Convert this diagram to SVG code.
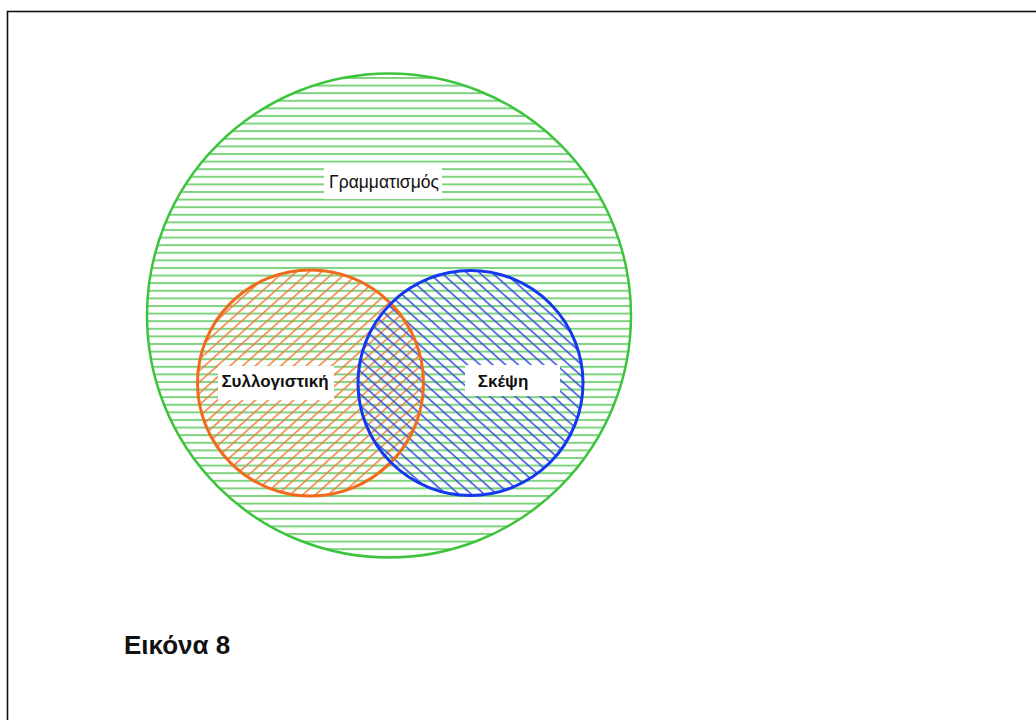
<svg xmlns="http://www.w3.org/2000/svg" width="1036" height="720" viewBox="0 0 1036 720">
<defs>
<style>
.lbl{font-family:"Liberation Sans",Arial,sans-serif;fill:#111}
.b{font-weight:bold}
.box{fill:#fff}
</style>
<pattern id="hg" patternUnits="userSpaceOnUse" width="20" height="7.6" y="1">
<rect x="0" y="0" width="20" height="7.6" fill="#fff"/>
<rect x="0" y="0" width="20" height="2" fill="#7fd27f"/>
</pattern>
<pattern id="ho" patternUnits="userSpaceOnUse" width="20" height="8.5" patternTransform="rotate(-42)">
<rect x="0" y="0" width="20" height="1.5" fill="#f08040"/>
</pattern>
<pattern id="hb" patternUnits="userSpaceOnUse" width="20" height="8.5" patternTransform="rotate(42)">
<rect x="0" y="0" width="20" height="1.6" fill="#4058e0"/>
</pattern>
</defs>
<rect width="1036" height="720" fill="#fff"/>
<rect x="7.5" y="11.5" width="1100" height="800" fill="none" stroke="#111" stroke-width="1.6"/>
<g id="grammatismos">
<circle cx="389" cy="315.5" r="242" fill="url(#hg)" stroke="#3cc43c" stroke-width="2.5"/>
</g>
<g id="syllogistiki">
<circle cx="310.5" cy="383" r="113" fill="url(#ho)" stroke="none"/>
</g>
<g id="skepsi">
<circle cx="470.5" cy="383" r="112.5" fill="url(#hb)" stroke="none"/>
</g>
<g id="outlines">
<circle cx="310.5" cy="383" r="113" fill="none" stroke="#f26a1b" stroke-width="3"/>
<circle cx="470.5" cy="383" r="112.5" fill="none" stroke="#1438f0" stroke-width="3"/>
</g>
<g id="labels">
<rect class="box" x="324" y="167" width="118" height="32"/>
<text class="lbl" x="384" y="188" font-size="17.5" text-anchor="middle">Γραμματισμός</text>
<rect class="box" x="218" y="366" width="116" height="34"/>
<text class="lbl b" x="275" y="387" font-size="17" text-anchor="middle">Συλλογιστική</text>
<rect class="box" x="465" y="365" width="95" height="31"/>
<text class="lbl b" x="503" y="387" font-size="17" text-anchor="middle">Σκέψη</text>
</g>
<text class="lbl b" x="124" y="654" font-size="26">Εικόνα 8</text>
</svg>
